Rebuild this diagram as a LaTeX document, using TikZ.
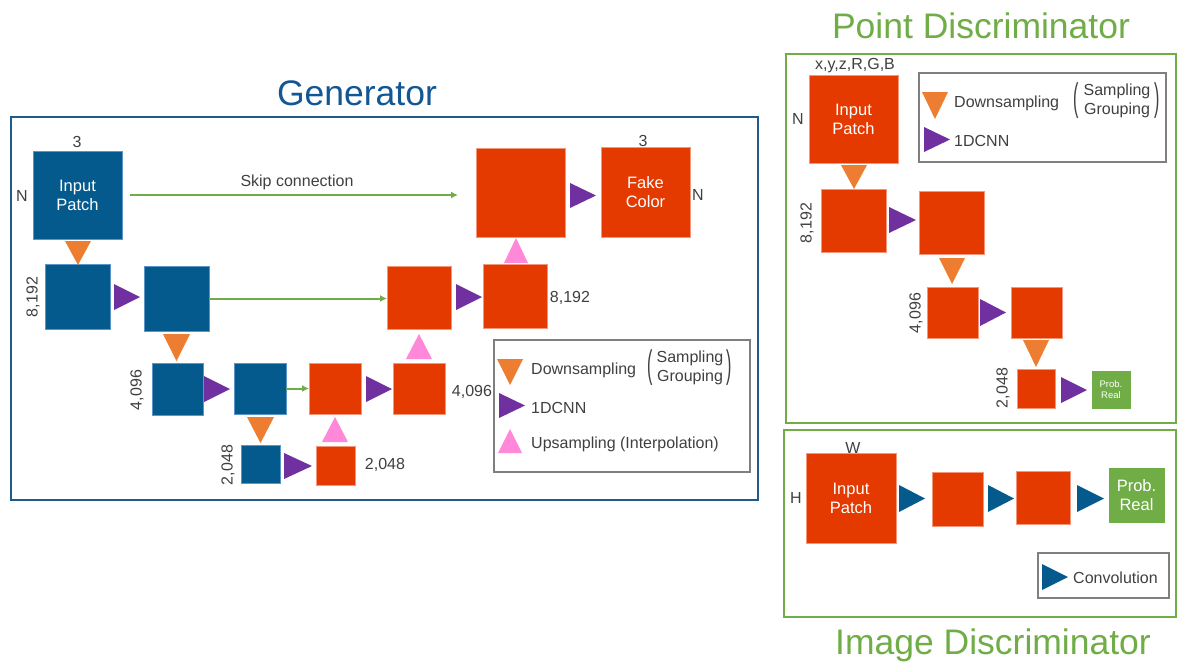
\documentclass[tikz,border=0pt]{standalone}
\usepackage{fontspec}
\setmainfont{Liberation Sans}
\usetikzlibrary{arrows.meta}
\definecolor{blu}{RGB}{4,90,141}
\definecolor{bluedge}{RGB}{90,150,200}
\definecolor{org}{RGB}{228,58,0}
\definecolor{orgedge}{RGB}{245,150,120}
\definecolor{ora}{RGB}{237,125,49}
\definecolor{pur}{RGB}{112,48,160}
\definecolor{pnk}{RGB}{255,136,216}
\definecolor{grn}{RGB}{112,173,71}
\definecolor{txt}{RGB}{64,64,64}
\definecolor{gtitle}{RGB}{18,86,148}
\definecolor{gframe}{RGB}{30,90,140}
\definecolor{lgray}{RGB}{127,127,127}
\tikzset{
  bxs/.style={inner sep=0pt, outer sep=0pt, line width=0.6pt, text=white, align=center,
    font=\fontsize{16.5}{19}\selectfont},
  bbox/.style={bxs, fill=blu, draw=bluedge},
  obox/.style={bxs, fill=org, draw=orgedge},
  gbox/.style={bxs, fill=grn, draw=grn},
  lbl/.style={text=txt, inner sep=0pt, font=\fontsize{16}{19}\selectfont},
  rlbl/.style={lbl, rotate=90},
  two/.style={lbl, align=center},
  ttl/.style={inner sep=0pt, font=\fontsize{35.5}{40}\selectfont},
  garrow/.style={draw=grn, line width=2pt, -{Latex[length=7pt,width=7pt]}},
  legframe/.style={draw=lgray, line width=1.2pt, fill=white, inner sep=0pt, outer sep=0pt},
}
\newcommand\Bx[7]{\node[#6, anchor=north west, minimum width={(#4-#2)*1pt}, minimum height={(#5-#3)*1pt}] (#1) at (#2,#3) {#7};}
\newcommand\TriD[5]{\fill[#5] (#1,#2) -- (#3,#2) -- ({(#1+#3)/2},#4) -- cycle;}
\newcommand\TriR[5]{\fill[#5] (#1,#2) -- (#3,{(#2+#4)/2}) -- (#1,#4) -- cycle;}
\newcommand\TriU[5]{\fill[#5] (#1,#4) -- (#3,#4) -- ({(#1+#3)/2},#2) -- cycle;}
\newcommand\Paren[1]{\scalebox{1.0}[2.4]{\fontsize{16}{16}\selectfont #1}}
\begin{document}
\begin{tikzpicture}[x=1pt,y=-1pt]
\useasboundingbox[fill=white] (0,0) rectangle (1184,665);

% ================= Generator =================
\Bx{gframe}{10}{116}{757}{499}{draw=gframe, line width=2pt, inner sep=0pt}{}
\node[ttl, text=gtitle] (gtitle) at (357,93) {Generator};

\Bx{gin}{33}{151}{122}{239}{bbox}{Input\\Patch}
\Bx{g1a}{45}{264}{110}{329}{bbox}{}
\Bx{g1b}{144}{266}{209}{331}{bbox}{}
\Bx{g2a}{152}{363}{203}{415}{bbox}{}
\Bx{g2b}{234}{363}{286}{414}{bbox}{}
\Bx{g3a}{241}{445}{280}{483}{bbox}{}
\Bx{g3b}{316}{446}{355}{485}{obox}{}
\Bx{g2c}{309}{363}{361}{414}{obox}{}
\Bx{g2d}{393}{363}{445}{414}{obox}{}
\Bx{g1c}{387}{266}{451}{329}{obox}{}
\Bx{g1d}{483}{264}{547}{328}{obox}{}
\Bx{g0c}{476}{148}{565}{237}{obox}{}
\Bx{gout}{601}{147}{690}{237}{obox}{Fake\\Color}

\TriD{65}{241}{91}{265}{ora}
\TriR{114}{284}{140}{310}{pur}
\TriD{163}{334}{190}{361}{ora}
\TriR{204}{376}{230}{402}{pur}
\TriR{366}{376}{392}{402}{pur}
\TriD{247}{417}{274}{443}{ora}
\TriR{284}{453}{312}{479}{pur}
\TriU{322}{417}{348}{442}{pnk}
\TriU{406}{334}{432}{359}{pnk}
\TriR{456}{284}{482}{310}{pur}
\TriU{504}{238}{528}{263}{pnk}
\TriR{570}{183}{596}{208}{pur}

\node[lbl] (lg3) at (77,142) {3};
\node[lbl] (lgN) at (22,196) {N};
\node[rlbl] (lg8a) at (33,297) {8,192};
\node[rlbl] (lg4a) at (137,390) {4,096};
\node[rlbl] (lg2a) at (228,465) {2,048};
\node[lbl] (lg2b) at (385,465) {2,048};
\node[lbl] (lg4b) at (472,392) {4,096};
\node[lbl] (lg8b) at (570,298) {8,192};
\node[lbl] (lg3o) at (643,141) {3};
\node[lbl] (lgNo) at (698,195) {N};

\draw[garrow, shorten <=8pt, shorten >=18pt] (gin.east) -- (gin.east -| g0c.west);
\node[lbl] (skip) at (297,182) {Skip connection};
\draw[garrow] (g1b.east) -- (g1b.east -| g1c.west);
\draw[garrow] (g2b.east) -- (g2b.east -| g2c.west);

% legend
\Bx{glg}{494}{340}{750}{472}{legframe}{}
\TriD{497}{359}{523}{385}{ora}
\node[lbl, anchor=west] (gld) at (531,370) {Downsampling};
\node[lbl] (glp1) at (650,368) {\Paren{(}};
\node[two] (gls) at (690,368) {Sampling\\Grouping};
\node[lbl] (glp2) at (729,368) {\Paren{)}};
\TriR{499}{393}{525}{418}{pur}
\node[lbl, anchor=west] (glc) at (531,408) {1DCNN};
\TriU{498}{429}{522}{453}{pnk}
\node[lbl, anchor=west] (glu) at (531,444) {Upsampling (Interpolation)};

% ================= Point Discriminator =================
\Bx{pframe}{785}{53}{1175}{422}{draw=grn, line width=2pt, inner sep=0pt}{}
\node[ttl, text=grn] (ptitle) at (981,26) {Point Discriminator};

\Bx{plg}{919}{73}{1166}{162}{legframe}{}
\TriD{922}{92}{948}{119}{ora}
\node[lbl, anchor=west] (pld) at (954,103) {Downsampling};
\node[lbl] (plp1) at (1076,101) {\Paren{(}};
\node[two] (pls) at (1117,101) {Sampling\\Grouping};
\node[lbl] (plp2) at (1157,101) {\Paren{)}};
\TriR{924}{127}{950}{152}{pur}
\node[lbl, anchor=west] (plc) at (954,141) {1DCNN};

\Bx{pin}{809}{75}{898}{163}{obox}{Input\\Patch}
\Bx{p1a}{821}{189}{886}{252}{obox}{}
\Bx{p1b}{919}{191}{984}{254}{obox}{}
\Bx{p2a}{927}{287}{978}{338}{obox}{}
\Bx{p2b}{1011}{287}{1062}{338}{obox}{}
\Bx{p3a}{1017}{369}{1055}{408}{obox}{}
\Bx{pout}{1092}{371}{1130}{408}{gbox, font=\fontsize{9.5}{11.5}\selectfont}{Prob.\\Real}

\TriD{841}{165}{867}{189}{ora}
\TriR{889}{207}{916}{233}{pur}
\TriD{939}{258}{965}{284}{ora}
\TriR{980}{299}{1006}{326}{pur}
\TriD{1023}{340}{1049}{367}{ora}
\TriR{1061}{377}{1087}{403}{pur}

\node[lbl] (pxyz) at (855,66) {x,y,z,R,G,B};
\node[lbl] (pN) at (798,119) {N};
\node[rlbl] (p8) at (807,223) {8,192};
\node[rlbl] (p4) at (916,313) {4,096};
\node[rlbl] (p2) at (1003,388) {2,048};

% ================= Image Discriminator =================
\Bx{iframe}{783}{429}{1175}{616}{draw=grn, line width=2pt, inner sep=0pt}{}
\node[ttl, text=grn] (ititle) at (993,645) {Image Discriminator};

\Bx{iin}{806}{453}{896}{543}{obox}{Input\\Patch}
\Bx{i1}{932}{472}{983}{526}{obox}{}
\Bx{i2}{1016}{471}{1070}{524}{obox}{}
\Bx{iout}{1109}{468}{1164}{522}{gbox}{Prob.\\Real}
\TriR{899}{485}{925}{512}{blu}
\TriR{988}{485}{1014}{512}{blu}
\TriR{1077}{485}{1104}{512}{blu}
\node[lbl] (iW) at (853,448) {W};
\node[lbl] (iH) at (796,498) {H};

\Bx{ilg}{1038}{553}{1169}{598}{legframe}{}
\TriR{1042}{564}{1068}{590}{blu}
\node[lbl, anchor=west] (ilc) at (1073,578) {Convolution};
\end{tikzpicture}
\end{document}
